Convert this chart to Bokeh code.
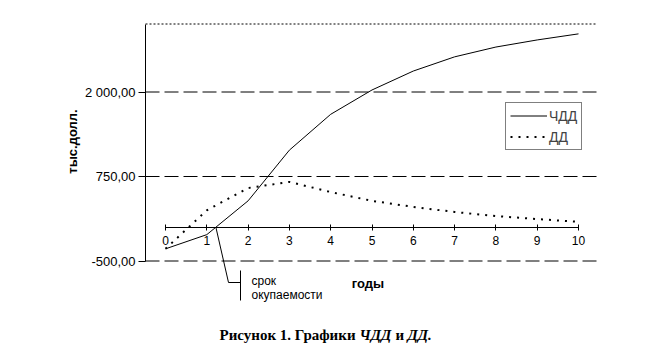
import math
from bokeh.plotting import figure
from bokeh.models import (LinearAxis, FixedTicker, Range1d, Label, Arrow,
                          Legend, LegendItem)
from bokeh.embed import file_html
from bokeh.resources import INLINE

# ---- data ----
years = [0, 1, 2, 3, 4, 5, 6, 7, 8, 9, 10]
npv = [-320, -110, 390, 1140, 1670, 2030, 2310, 2520, 2665, 2770, 2860]   # ЧДД
dd = [-320, 250, 580, 670, 520, 390, 300, 225, 165, 120, 80]              # ДД
y_ticks = [-500, 750, 2000]
y_tick_labels = ["-500,00", "750,00", "2 000,00"]
series_names = ["ЧДД", "ДД"]

# ---- page geometry (pixels on the page, origin top-left) ----
X0_PX, KX = 165.0, 41.3           # pixel of year 0, px per year
YB_PX, KY = 260.5, 84.5 / 1250.0  # pixel of y=-500, px per unit
F_L, F_R, F_T = 145, 599, 23.5    # plot-area left, right, top


def dx(px):
    return (px - X0_PX) / KX


def dy(py):
    return -500 + (YB_PX - py) / KY


W, H = 640, 352
p = figure(width=W, height=H, output_backend="svg", toolbar_location=None,
           x_range=Range1d(dx(0), dx(W)), y_range=Range1d(dy(H), dy(0)),
           x_axis_location=None, y_axis_location=None,
           min_border=0, min_border_left=0, min_border_right=0,
           min_border_top=0, min_border_bottom=0)
p.outline_line_color = None
p.background_fill_color = "white"
p.border_fill_color = "white"
p.grid.visible = False

FONT = "Liberation Sans"

# dashed horizontal grid lines at the y ticks, across the plot area
p.segment(x0=[dx(F_L)] * len(y_ticks), x1=[dx(F_R)] * len(y_ticks),
          y0=y_ticks, y1=y_ticks, line_color="black", line_dash="14 5", line_width=1)
# top dotted border
p.segment(x0=[dx(F_L)], x1=[dx(F_R - 3)], y0=[dy(F_T)], y1=[dy(F_T)],
          line_color="black", line_dash="2 2", line_width=1)

# left (value) axis
ya = LinearAxis(fixed_location=dx(F_L), ticker=FixedTicker(ticks=y_ticks),
                bounds=(-500, dy(F_T)),
                major_label_overrides={t: l for t, l in zip(y_ticks, y_tick_labels)},
                major_tick_in=0, major_tick_out=7, minor_tick_in=0, minor_tick_out=0,
                major_label_standoff=3, major_label_text_font=FONT,
                major_label_text_font_size="13px", major_label_text_color="black",
                axis_line_color="black", major_tick_line_color="black")
p.add_layout(ya, "left")

# inner x axis at zero
xa = LinearAxis(fixed_location=0, ticker=FixedTicker(ticks=years), bounds=(0, 10),
                major_tick_in=3, major_tick_out=3, minor_tick_in=0, minor_tick_out=0,
                major_label_standoff=6, major_label_text_font=FONT,
                major_label_text_font_size="12px", major_label_text_color="black",
                axis_line_color="black", major_tick_line_color="black")
p.add_layout(xa, "below")

r1 = p.line(years, npv, line_color="black", line_width=1)
r2 = p.line(years, dd, line_color="black", line_width=2, line_dash="2 6")

legend = Legend(items=[LegendItem(label=series_names[0], renderers=[r1]),
                       LegendItem(label=series_names[1], renderers=[r2])],
                location=(505, H - 150), margin=0, padding=4, spacing=4,
                glyph_width=37, glyph_height=17, label_height=17, label_standoff=2,
                label_text_font=FONT, label_text_font_size="14px",
                border_line_color="black", border_line_width=1,
                background_fill_color="white", background_fill_alpha=1)
p.add_layout(legend, "center")

# axis titles
p.add_layout(Label(x=dx(72), y=dy(141), text="тыс.долл.", angle=math.pi / 2,
                   text_font=FONT, text_font_size="13px", text_font_style="bold",
                   text_align="center", text_baseline="middle", text_color="black"))
p.add_layout(Label(x=dx(367.5), y=dy(283), text="годы", text_font=FONT,
                   text_font_size="13px", text_font_style="bold",
                   text_baseline="middle", text_align="center", text_color="black"))

# payback point: where ЧДД crosses zero
xc = 0.0
for i in range(1, len(years)):
    if npv[i - 1] < 0 <= npv[i]:
        xc = years[i - 1] + (0 - npv[i - 1]) / (npv[i] - npv[i - 1]) * (years[i] - years[i - 1])
        break

p.add_layout(Arrow(end=None, x_start=xc, y_start=0, x_end=dx(228), y_end=dy(282),
                   line_color="black", line_width=1))
p.add_layout(Arrow(end=None, x_start=dx(228), y_start=dy(282), x_end=dx(240), y_end=dy(282),
                   line_color="black", line_width=1))
p.add_layout(Arrow(end=None, x_start=dx(240), y_start=dy(270), x_end=dx(240), y_end=dy(300),
                   line_color="black", line_width=1))

for txt, py in [("срок", 280), ("окупаемости", 294)]:
    p.add_layout(Label(x=dx(251), y=dy(py), text=txt, text_font=FONT,
                       text_font_size="12px", text_baseline="middle", text_align="left",
                       text_color="black"))

# caption
CAP = "Liberation Serif"
for txt, px, style in [("Рисунок 1. Графики", 219, "bold"), ("ЧДД", 359, "bold italic"),
                       ("и", 395, "bold"), ("ДД.", 407, "bold italic")]:
    p.add_layout(Label(x=dx(px), y=dy(334), text=txt, text_font=CAP,
                       text_font_size="15px", text_font_style=style,
                       text_baseline="middle", text_align="left", text_color="black"))

open("out.html", "w").write(file_html(p, INLINE))
